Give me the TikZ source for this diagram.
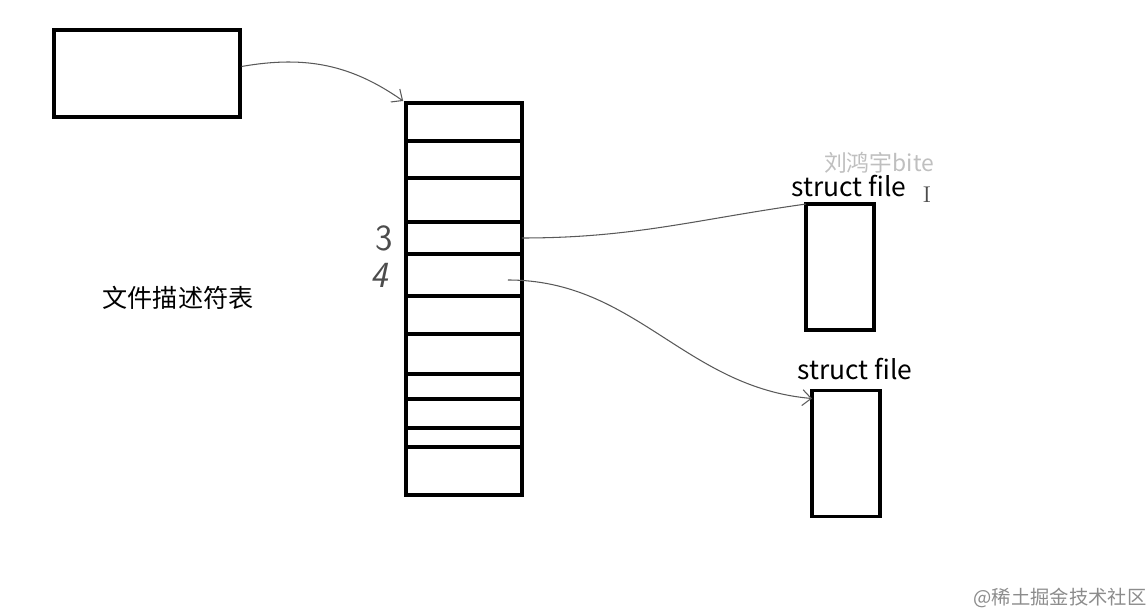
\documentclass[tikz,border=0pt]{standalone}
\usepackage{fontspec}
\newfontfamily\cjk{Noto Sans CJK SC}
\usetikzlibrary{arrows.meta,positioning}

\begin{document}
\begin{tikzpicture}[
  x=0.02cm, y=-0.02cm,
  font=\cjk,
  cell/.style={draw, line width=1.8pt, minimum width=2.32cm, inner sep=0pt, outer sep=0pt, anchor=north},
  fbox/.style={draw, line width=1.8pt, minimum width=1.36cm, minimum height=2.52cm, inner sep=0pt, outer sep=0pt},
  link/.style={draw=black!65, line width=0.6pt},
  arr/.style={link, -{Straight Barb[length=5pt,width=9pt]}}
]
  \useasboundingbox (0,0) rectangle (1146,615);

  % process pointer box
  \node[draw, line width=1.8pt, minimum width=3.72cm, minimum height=1.74cm, inner sep=0pt] (ptr) at (147,73.5) {};

  % descriptor table cells
  \foreach \i/\t/\b in {1/103/141, 2/141/178, 3/178/222, 4/222/254, 5/254/296, 6/296/334,
                        7/334/374, 8/374/399, 9/399/428, 10/428/447, 11/447/495} {
    \pgfmathsetmacro\h{(\b-\t)*0.02}
    \node[cell, minimum height=\h cm] (c\i) at (464,\t) {};
  }
  \node[font=\cjk\fontsize{14.3}{16}\selectfont] (fdt) at (178,298) {文件描述符表};
  \node[text=black!70, font=\sffamily\fontsize{21}{21}\selectfont, left=0.14cm of c4] (n3) {3};
  \node[text=black!70, font=\sffamily\itshape\fontsize{21}{21}\selectfont, left=0.24cm of c5] (n4) {4};

  % file objects
  \node[fbox] (f1) at (840,267) {};
  \node[fbox] (f2) at (846,453.5) {};
  \node[font=\cjk\fontsize{15}{17}\selectfont, inner sep=1pt, above=0.1cm of f1, xshift=0.18cm] (l1) {struct file};
  \node[font=\cjk\fontsize{15}{17}\selectfont, above=0.08cm of f2, xshift=0.18cm] (l2) {struct file};

  % watermarks
  \node[text=black!25, font=\cjk\fontsize{13}{15}\selectfont, inner sep=1pt] (wm) at (879,163) {刘鸿宇bite};
  \node[text=black!70, font=\fontsize{13}{13}\selectfont] (cur) at (927,195) {I};
  \node[text=black!45, font=\cjk\fontsize{11}{13}\selectfont] (site) at (1060,598) {@稀土掘金技术社区};

  \draw[arr, shorten >=2pt] ([yshift=0.14cm]ptr.east) to[out=10, in=145] (c1.north west);
  \draw[link] (c4.east) to[out=0, in=188] (f1.north west);
  \draw[arr] ([xshift=-0.28cm,yshift=-0.1cm]c5.east) to[out=0, in=175] ([yshift=-0.16cm]f2.north west);
\end{tikzpicture}
\end{document}
